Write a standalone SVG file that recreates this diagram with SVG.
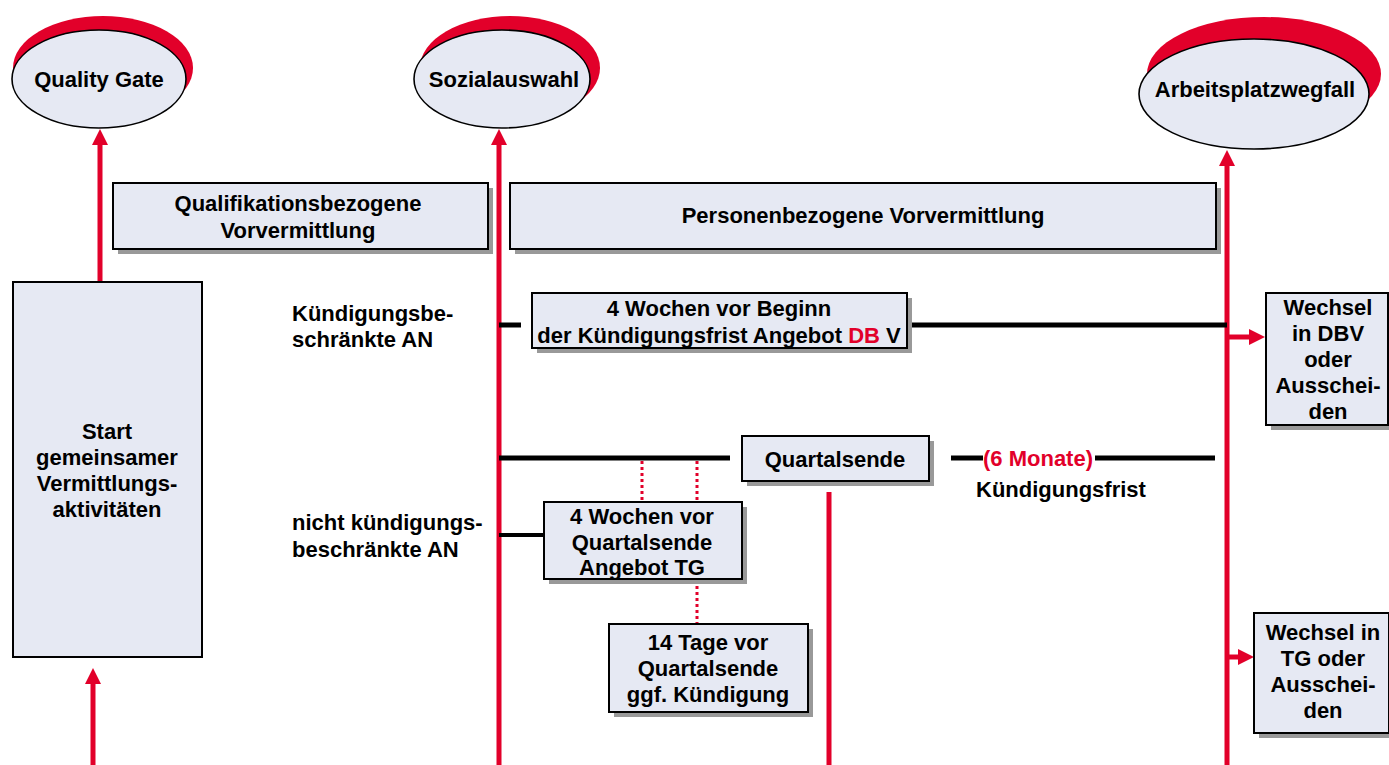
<svg xmlns="http://www.w3.org/2000/svg" width="1389" height="765" viewBox="0 0 1389 765">
<style>
  text { font-family: "Liberation Sans", Arial, sans-serif; font-weight: bold; font-size: 22px; fill: #000; }
  .c { text-anchor: middle; }
  .red { fill: #E2002A; }
  .box { fill: #E6E9F3; stroke: #000; stroke-width: 2; }
  .shadow { fill: #999999; }
  .ell { fill: #E6E9F3; stroke: #000; stroke-width: 1.6; }
  .ellred { fill: #E2002A; }
  .rl { stroke: #E2002A; stroke-width: 5; fill: none; }
  .bl { stroke: #000; stroke-width: 5; fill: none; }
  .bl4 { stroke: #000; stroke-width: 4; fill: none; }
  .dot { stroke: #E2002A; stroke-width: 3; stroke-dasharray: 3 3; fill: none; }
</style>
<defs>
  <marker id="ah" markerUnits="userSpaceOnUse" markerWidth="16" markerHeight="16" refX="6" refY="8" orient="auto">
    <path d="M0,0 L16,8 L0,16 Z" fill="#E2002A"/>
  </marker>
</defs>
<rect width="1389" height="765" fill="#fff"/>

<g id="connectors">
  <line class="rl" x1="100" y1="282" x2="100" y2="139" marker-end="url(#ah)"/>
  <line class="rl" x1="499" y1="765" x2="499" y2="139" marker-end="url(#ah)"/>
  <line class="rl" x1="1227" y1="765" x2="1227" y2="160" marker-end="url(#ah)"/>
  <line class="rl" x1="93" y1="765" x2="93" y2="678" marker-end="url(#ah)"/>
  <line class="rl" x1="829" y1="492" x2="829" y2="765"/>
  <line class="rl" x1="1227" y1="337" x2="1255" y2="337" marker-end="url(#ah)"/>
  <line class="rl" x1="1227" y1="657" x2="1244" y2="657" marker-end="url(#ah)"/>
  <line class="bl" x1="499" y1="325" x2="521" y2="325"/>
  <line class="bl" x1="907" y1="325" x2="1227" y2="325"/>
  <line class="bl" x1="499" y1="458" x2="730" y2="458"/>
  <line class="bl" x1="951" y1="458" x2="983" y2="458"/>
  <line class="bl" x1="1095" y1="458" x2="1215" y2="458"/>
  <line class="bl4" x1="499" y1="535" x2="544" y2="535"/>
  <line class="dot" x1="642" y1="461" x2="642" y2="502"/>
  <line class="dot" x1="697" y1="461" x2="697" y2="502"/>
  <line class="dot" x1="697" y1="580" x2="697" y2="624"/>
</g>

<g id="quality-gate">
  <ellipse class="ellred" cx="103" cy="68" rx="90" ry="52"/>
  <ellipse class="ell" cx="99" cy="79" rx="87" ry="49"/>
  <text class="c" x="99" y="87">Quality Gate</text>
</g>
<g id="sozialauswahl">
  <ellipse class="ellred" cx="510" cy="68" rx="90" ry="52"/>
  <ellipse class="ell" cx="502" cy="79" rx="88" ry="49"/>
  <text class="c" x="504" y="87">Sozialauswahl</text>
</g>
<g id="arbeitsplatzwegfall">
  <ellipse class="ellred" cx="1264" cy="74" rx="117" ry="57"/>
  <ellipse class="ell" cx="1254" cy="94" rx="115" ry="55"/>
  <text class="c" x="1255" y="97">Arbeitsplatzwegfall</text>
</g>

<g id="qualifikationsbezogene">
  <rect class="shadow" x="118" y="188" width="375" height="66"/>
  <rect class="box" x="113" y="183" width="375" height="66"/>
  <text class="c" x="298" y="211">Qualifikationsbezogene</text>
  <text class="c" x="298" y="238">Vorvermittlung</text>
</g>
<g id="personenbezogene">
  <rect class="shadow" x="515" y="188" width="706" height="66"/>
  <rect class="box" x="510" y="183" width="706" height="66"/>
  <text class="c" x="863" y="223">Personenbezogene Vorvermittlung</text>
</g>
<g id="start">
  <rect class="box" x="13" y="282" width="189" height="375"/>
  <text class="c" x="107" y="439">Start</text>
  <text class="c" x="107" y="465">gemeinsamer</text>
  <text class="c" x="107" y="491">Vermittlungs-</text>
  <text class="c" x="107" y="517">aktivitäten</text>
</g>
<g id="label-kb">
  <text x="292" y="321">Kündigungsbe-</text>
  <text x="292" y="347">schränkte AN</text>
</g>
<g id="label-nkb">
  <text x="292" y="530">nicht kündigungs-</text>
  <text x="292" y="557">beschränkte AN</text>
</g>
<g id="angebot-dbv">
  <rect class="shadow" x="537" y="298" width="375" height="55"/>
  <rect class="box" x="532" y="293" width="375" height="55"/>
  <text class="c" x="719" y="316">4 Wochen vor Beginn</text>
  <text class="c" x="719" y="343">der Kündigungsfrist Angebot <tspan class="red">DB</tspan> V</text>
</g>
<g id="quartalsende">
  <rect class="shadow" x="747" y="441" width="187" height="45"/>
  <rect class="box" x="742" y="436" width="187" height="45"/>
  <text class="c" x="835" y="467">Quartalsende</text>
</g>
<g id="kuendigungsfrist">
  <text class="red" x="983" y="466">(6 Monate)</text>
  <text x="976" y="497">Kündigungsfrist</text>
</g>
<g id="angebot-tg">
  <rect class="shadow" x="549" y="507" width="198" height="77"/>
  <rect class="box" x="544" y="502" width="198" height="77"/>
  <text class="c" x="642" y="524">4 Wochen vor</text>
  <text class="c" x="642" y="550">Quartalsende</text>
  <text class="c" x="642" y="575">Angebot TG</text>
</g>
<g id="kuendigung">
  <rect class="shadow" x="614" y="629" width="199" height="88"/>
  <rect class="box" x="609" y="624" width="199" height="88"/>
  <text class="c" x="708" y="650">14 Tage vor</text>
  <text class="c" x="708" y="676">Quartalsende</text>
  <text class="c" x="708" y="702">ggf. Kündigung</text>
</g>
<g id="wechsel-dbv">
  <rect class="shadow" x="1271" y="298" width="123" height="132"/>
  <rect class="box" x="1266" y="293" width="122" height="132"/>
  <text class="c" x="1328" y="315">Wechsel</text>
  <text class="c" x="1328" y="341">in DBV</text>
  <text class="c" x="1328" y="367">oder</text>
  <text class="c" x="1328" y="393">Ausschei-</text>
  <text class="c" x="1328" y="419">den</text>
</g>
<g id="wechsel-tg">
  <rect class="shadow" x="1259" y="618" width="135" height="120"/>
  <rect class="box" x="1254" y="613" width="135" height="120"/>
  <text class="c" x="1323" y="640">Wechsel in</text>
  <text class="c" x="1323" y="666">TG oder</text>
  <text class="c" x="1323" y="692">Ausschei-</text>
  <text class="c" x="1323" y="718">den</text>
</g>
</svg>
